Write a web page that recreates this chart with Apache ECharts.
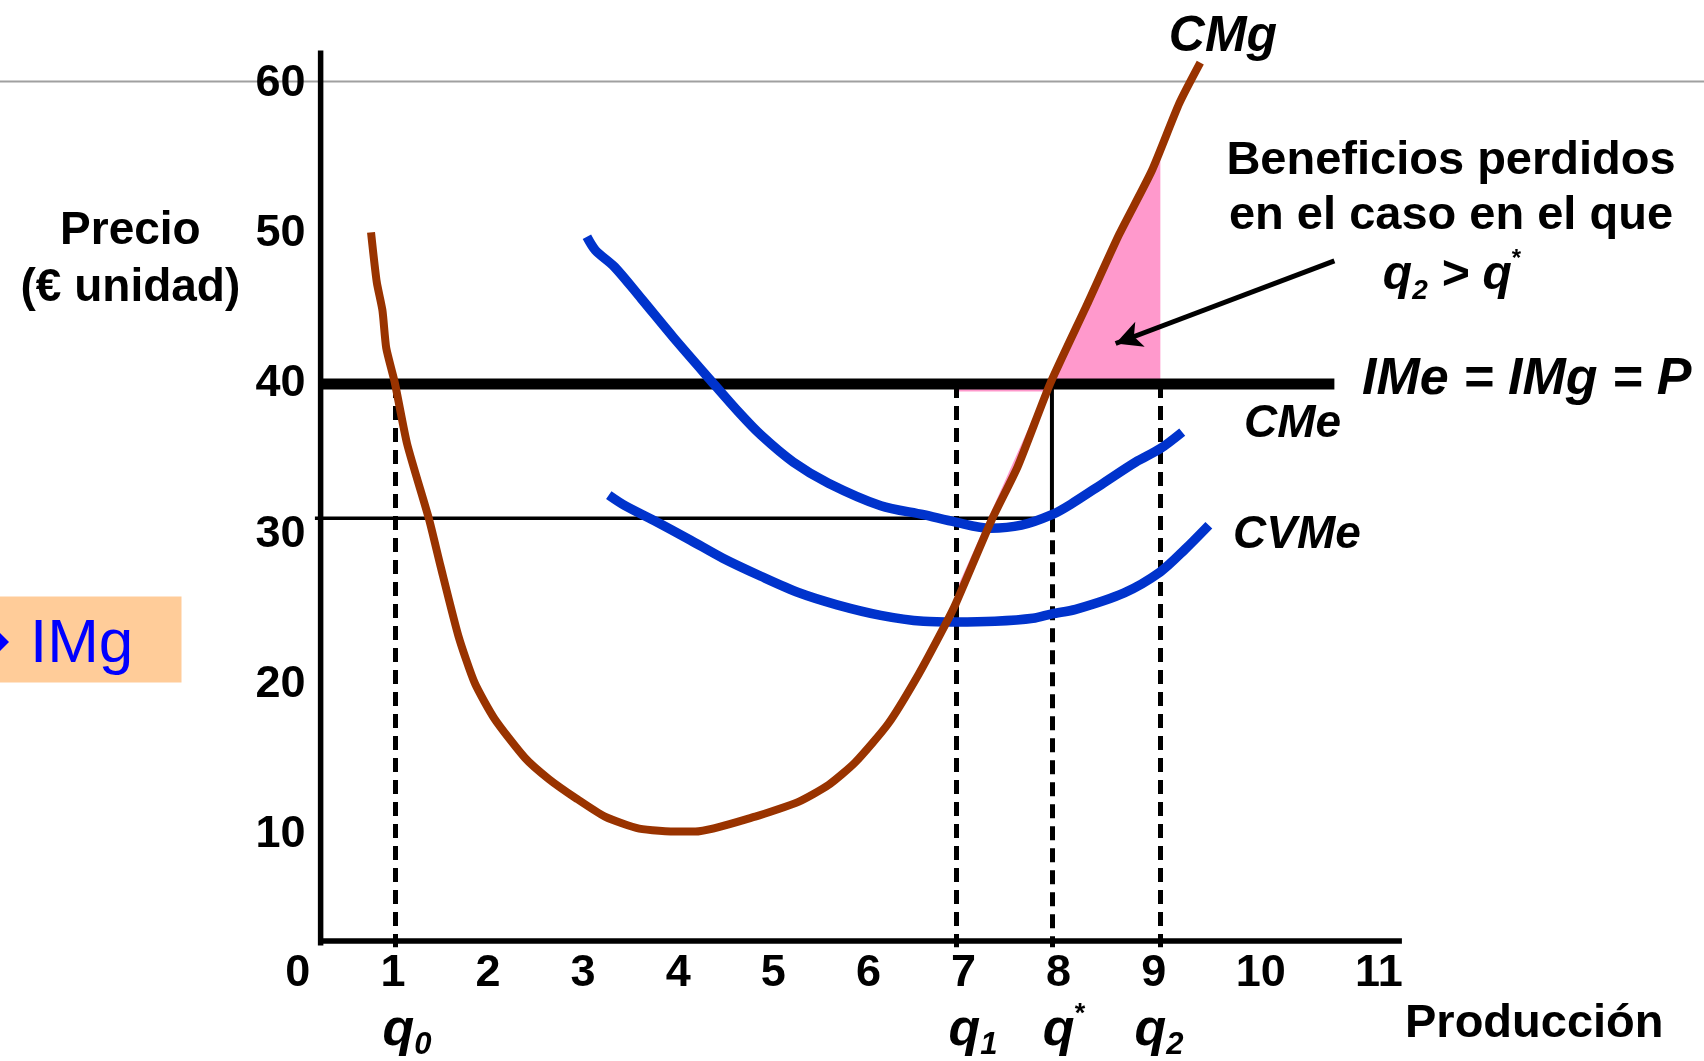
<!DOCTYPE html>
<html><head><meta charset="utf-8">
<script src="https://cdn.jsdelivr.net/npm/echarts@6/dist/echarts.min.js"></script>
<style>html,body{margin:0;padding:0;background:#fff;}#c{width:1704px;height:1061px;}</style>
</head><body><div id="c"></div>
<script>
// ---------- data ----------
const xTickLabels = ['0','1','2','3','4','5','6','7','8','9','10','11'];
const yTickLabels = ['10','20','30','40','50','60'];
const price = 40;            // IMe = IMg = P
const cmeMinLevel = 31.06;   // thin horizontal line
const q0 = 1.02, q1 = 6.92, qStar = 7.93, q2 = 9.07;

const cmgX = [0.77,0.83,0.89,0.93,1.02,1.15,1.38,1.50,1.69,1.86,2.07,2.39,2.64,2.93,3.23,3.59,4.01,4.18,4.81,5.27,5.58,5.86,6.21,6.53,6.81,6.92,7.30,7.57,7.91,8.30,8.64,8.98,9.27,9.49];
const cmgY = [50.1,46.8,44.9,42.4,40.1,36.0,31.0,27.9,23.2,20.1,17.7,15.1,13.7,12.4,11.2,10.4,10.2,10.2,11.2,12.2,13.3,14.8,17.4,20.7,24.0,25.4,31.0,34.5,40.0,45.3,50.0,54.2,58.7,61.4];

const cmeX = [3.04,3.13,3.33,3.61,3.95,4.32,4.64,4.87,5.21,5.58,6.13,6.58,6.92,7.28,7.61,7.93,8.13,8.47,8.81,9.07,9.30];
const cmeY = [49.8,48.9,47.8,45.7,43.1,40.4,38.1,36.6,34.8,33.4,31.9,31.3,30.8,30.4,30.6,31.3,32.0,33.4,34.8,35.7,36.8];

const cvmeX = [3.27,3.44,3.78,4.13,4.47,4.87,5.27,5.67,6.13,6.58,6.92,7.33,7.73,7.93,8.18,8.69,9.07,9.33,9.58];
const cvmeY = [32.6,31.9,30.8,29.6,28.4,27.2,26.1,25.3,24.6,24.2,24.15,24.2,24.4,24.7,25.0,26.1,27.5,29.0,30.6];

const arrowFrom = [10.90, 48.2], arrowTo = [8.60, 42.7];

// ---------- helpers ----------
const pairs = (xs, ys) => xs.map((x, i) => [x, ys[i]]);
function cmgAt(x) {
  for (let i = 0; i < cmgX.length - 1; i++) {
    if (x >= cmgX[i] && x <= cmgX[i + 1]) {
      const t = (x - cmgX[i]) / (cmgX[i + 1] - cmgX[i]);
      return cmgY[i] + t * (cmgY[i + 1] - cmgY[i]);
    }
  }
  return cmgY[cmgY.length - 1];
}
const pinkPoly = [[qStar, price]]
  .concat(pairs(cmgX, cmgY).filter(p => p[0] > qStar && p[0] < q2))
  .concat([[q2, cmgAt(q2)], [q2, price]]);

const FAM = '"Liberation Sans", Arial, Helvetica, sans-serif';
const yAxisAt = 0.24, xAxisAt = 2.91, xEnd = 11.61, yEnd = 62.2;

const chart = echarts.init(document.getElementById('c'), null, {renderer: 'canvas'});

function txt(x, y, text, font, align, fill) {
  return {type: 'text', x: x, y: y, z: 50, silent: true,
    style: {text: text, font: font, fill: fill || '#000', textAlign: align || 'center', textVerticalAlign: 'middle'}};
}
const qRich = {
  q: {font: 'italic bold 52px ' + FAM, lineHeight: 60, fill: '#000'},
  s: {font: 'italic bold 31px ' + FAM, lineHeight: 31, verticalAlign: 'bottom', fill: '#000'},
  p: {font: 'bold 27px ' + FAM, lineHeight: 31, verticalAlign: 'top', fill: '#000'}
};
function qLabel(x, y, main, sub, sup) {
  const t = '{q|' + main + '}' + (sub ? '{s|' + sub + '}' : '') + (sup ? '{p|' + sup + '}' : '');
  return {type: 'text', x: x, y: y, z: 50, silent: true,
    style: {text: t, rich: qRich, textAlign: 'center', textVerticalAlign: 'middle'}};
}
const blk = (data, width, z) => ({type: 'line', z: z, silent: true, clip: false, symbol: 'none',
  data: data, lineStyle: {color: '#000', width: width}});

const option = {
  animation: false,
  backgroundColor: '#fff',
  textStyle: {fontFamily: FAM},
  grid: {left: 297.8, right: 302.1, top: 50.6, bottom: 76.2, containLabel: false, outerBoundsMode: 'none'},
  xAxis: {
    type: 'value', min: 0, max: xEnd, interval: 1, offset: -43.7,
    axisLine: {show: false}, axisTick: {show: false}, splitLine: {show: false},
    axisLabel: {
      fontSize: 45, fontWeight: 'bold', color: '#000', margin: 10, fontFamily: FAM,
      showMaxLabel: false,
      formatter: v => {
        if (!Number.isInteger(v) || v < 0 || v > 11) return '';
        const s = xTickLabels[v];
        if (v === 10) return '{a|' + s + '}';
        if (v === 11) return '{b|' + s + '}';
        return s;
      },
      rich: {
        a: {fontSize: 45, fontWeight: 'bold', color: '#000', fontFamily: FAM, padding: [0, 0, 0, 24]},
        b: {fontSize: 45, fontWeight: 'bold', color: '#000', fontFamily: FAM, padding: [0, 0, 0, 70]}
      }
    }
  },
  yAxis: {
    type: 'value', min: 0, max: yEnd, interval: 10, offset: -22.8,
    axisLine: {show: false}, axisTick: {show: false}, splitLine: {show: false},
    axisLabel: {
      fontSize: 45, fontWeight: 'bold', color: '#000', margin: 15, fontFamily: FAM,
      padding: [4, 0, 0, 0],
      showMaxLabel: false,
      formatter: v => { const i = yTickLabels.indexOf(String(v)); return i >= 0 ? yTickLabels[i] : ''; }
    }
  },
  series: [
    { // pink lost-profit area
      type: 'custom', z: 1, silent: true, clip: false,
      data: [[qStar, price]],
      renderItem: (params, api) => ({
        type: 'polygon',
        shape: {points: pinkPoly.map(p => api.coord(p))},
        style: {fill: '#FF99CC'}
      })
    },
    { // pink edge sliver
      type: 'line', z: 2, silent: true, clip: false, symbol: 'none',
      data: [[q1 + 0.02, cmgAt(q1 + 0.06)], [qStar - 0.05, price - 0.4], [q1, price - 0.4]],
      lineStyle: {color: '#FF99CC', width: 3}
    },
    blk([[0.18, cmeMinLevel], [qStar, cmeMinLevel]], 3.5, 3),   // thin line at CMe minimum
    blk([[qStar, price], [qStar, cmeMinLevel]], 4, 3),          // q* solid segment
    blk([[yAxisAt, price], [10.90, price]], 11, 4),             // price line
    { name: 'CMe', type: 'line', z: 5, silent: true, clip: false, symbol: 'none', smooth: 0.3,
      data: pairs(cmeX, cmeY), lineStyle: {color: '#0033CC', width: 9.5} },
    { name: 'CVMe', type: 'line', z: 5, silent: true, clip: false, symbol: 'none', smooth: 0.3,
      data: pairs(cvmeX, cvmeY), lineStyle: {color: '#0033CC', width: 9.5} },
    { name: 'CMg', type: 'line', z: 6, silent: true, clip: false, symbol: 'none', smooth: 0.2,
      data: pairs(cmgX, cmgY), lineStyle: {color: '#993300', width: 8} },
    { // dashed guides
      type: 'line', z: 7, silent: true, clip: false, symbol: 'none', data: [],
      markLine: {
        silent: true, symbol: ['none', 'none'], label: {show: false},
        lineStyle: {color: '#000', width: 5, type: [14, 8]},
        data: [
          [{coord: [q0, price]}, {coord: [q0, 2.5]}],
          [{coord: [q1, price]}, {coord: [q1, 2.5]}],
          [{coord: [qStar, cmeMinLevel]}, {coord: [qStar, 2.5]}],
          [{coord: [q2, price]}, {coord: [q2, 2.5]}]
        ]
      }
    },
    blk([[yAxisAt, yEnd], [yAxisAt, xAxisAt - 0.3]], 5.5, 8),   // y axis
    Object.assign(blk([[yAxisAt - 0.02, xAxisAt], [xEnd, xAxisAt]], 5.5, 8), {  // x axis + arrow
      markLine: {
        silent: true, symbol: ['none', 'arrow'], symbolSize: [20, 26], label: {show: false},
        lineStyle: {color: '#000', width: 5, type: 'solid'},
        data: [[{coord: arrowFrom}, {coord: arrowTo}]]
      }
    })
  ],
  graphic: [
    {type: 'line', z: -10, silent: true, shape: {x1: 0, y1: 81.5, x2: 1704, y2: 81.5}, style: {stroke: '#A0A0A0', lineWidth: 2}},
    {type: 'rect', z: 40, silent: true, shape: {x: 0, y: 596.6, width: 181.5, height: 86}, style: {fill: '#FFCC99'}},
    {type: 'polygon', z: 45, silent: true, shape: {points: [[0, 633], [9, 642], [0, 651]]}, style: {fill: '#0000FF'}},
    txt(30, 645, 'IMg', '62px ' + FAM, 'left', '#0000FF'),
    txt(1223, 37, 'CMg', 'italic bold 50px ' + FAM),
    txt(1451, 161.5, 'Beneficios perdidos', 'bold 47px ' + FAM),
    txt(1451, 216.5, 'en el caso en el que', 'bold 47px ' + FAM),
    {type: 'text', x: 1452, y: 276, z: 50, silent: true,
      style: {text: '{q|q}{s|2}{q| > q}{p|*}', rich: {
        q: {font: 'italic bold 48px ' + FAM, lineHeight: 58, fill: '#000'},
        s: {font: 'italic bold 28px ' + FAM, lineHeight: 28, verticalAlign: 'bottom', fill: '#000'},
        p: {font: 'bold 24px ' + FAM, lineHeight: 28, verticalAlign: 'top', fill: '#000'}
      }, textAlign: 'center', textVerticalAlign: 'middle'}},
    txt(1362, 380, 'IMe = IMg = P', 'italic bold 52px ' + FAM, 'left'),
    txt(1244, 424, 'CMe', 'italic bold 46px ' + FAM, 'left'),
    txt(1233, 535, 'CVMe', 'italic bold 46px ' + FAM, 'left'),
    txt(130.4, 231, 'Precio', 'bold 46px ' + FAM),
    txt(130.4, 288.5, '(\u20AC unidad)', 'bold 46px ' + FAM),
    txt(1405, 1024, 'Producci\u00F3n', 'bold 47px ' + FAM, 'left'),
    qLabel(407, 1031, 'q', '0'),
    qLabel(973, 1031, 'q', '1'),
    qLabel(1064, 1031, 'q', null, '*'),
    qLabel(1159, 1031, 'q', '2')
  ]
};
chart.setOption(option);
</script>
</body></html>
